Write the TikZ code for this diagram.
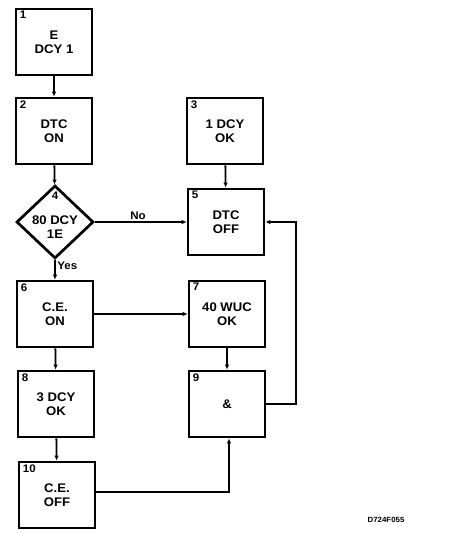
\documentclass[tikz,border=0pt]{standalone}
\usepackage{fontspec}
\setmainfont{Liberation Sans}
\newfontfamily\widefont[FakeStretch=1.05]{Liberation Sans}
\usetikzlibrary{shapes.geometric,arrows.meta}
\begin{document}
\begin{tikzpicture}[x=1pt,y=-1pt,
  txt/.style={font=\widefont\bfseries\fontsize{12.5}{14}\selectfont,align=center,inner sep=0pt},
  blk/.style={draw,line width=2.7pt,minimum width=76pt,minimum height=66pt,inner sep=0pt,txt},
  dia/.style={draw,line width=2.7pt,diamond,minimum width=77pt,minimum height=73pt,inner sep=0pt},
  num/.style={font=\widefont\bfseries\fontsize{11}{12}\selectfont,anchor=north west,inner sep=0pt},
  lbl/.style={font=\widefont\bfseries\fontsize{11}{12}\selectfont,inner sep=1.5pt},
  conn/.style={line width=1.8pt,-{Latex[length=5pt,width=4.5pt]}}]
\useasboundingbox (0,0) rectangle (448,534);
\node[blk] (b1) at (54,42) {E\\DCY 1};
\node[blk] (b2) at (54,131) {DTC\\ON};
\node[dia] (b4) at (55,222) {};
\node[txt] (t4) at (55,227) {80 DCY\\1E};
\node[num,anchor=north] (n4) at (55,192) {4};
\node[blk] (b6) at (55,314) {C.E.\\ON};
\node[blk] (b8) at (56,404) {3 DCY\\OK};
\node[blk] (b10) at (57,495) {C.E.\\OFF};
\node[blk] (b3) at (225,131) {1 DCY\\OK};
\node[blk] (b5) at (226,222) {DTC\\OFF};
\node[blk] (b7) at (227,314) {40 WUC\\OK};
\node[blk] (b9) at (227,404) {\&};
\foreach \n/\t in {b1/1,b2/2,b3/3,b5/5,b6/6,b7/7,b8/8,b9/9,b10/10}
  \node[num] at ([xshift=5pt,yshift=-3.5pt]\n.north west) {\t};
\draw[conn] (b1) -- (b2);
\draw[conn] (b2) -- (b4);
\draw[conn] (b4) -- node[lbl,above,pos=0.47]{No} (b5);
\draw[conn] (b4) -- node[lbl,right,pos=0.3]{Yes} (b6);
\draw[conn] (b3) -- (b5);
\draw[conn] (b6) -- (b7);
\draw[conn] (b6) -- (b8);
\draw[conn] (b8) -- (b10);
\draw[conn] (b7) -- (b9);
\coordinate (c1) at (229,492);
\draw[conn] (b10.east |- c1) -- (c1) -- (b9.south -| c1);
\coordinate (c2) at (296,404);
\coordinate (c3) at (296,222);
\draw[conn] (b9.east) -- (c2) -- (c3) -- (b5.east);
\node[font=\widefont\bfseries\fontsize{7.5}{8}\selectfont] (id) at (386,520) {D724F055};
\end{tikzpicture}
\end{document}
